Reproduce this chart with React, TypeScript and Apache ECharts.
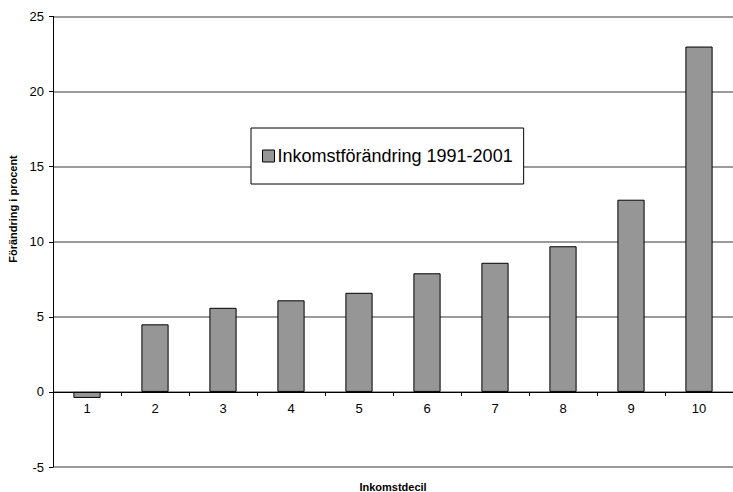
import React, { useEffect, useRef } from "react";
import * as echarts from "echarts";

const categories = ["1", "2", "3", "4", "5", "6", "7", "8", "9", "10"];
const values = [-0.4, 4.5, 5.6, 6.1, 6.6, 7.9, 8.6, 9.7, 12.8, 23.0];
const seriesName = "Inkomstförändring 1991-2001";
const yTitle = "Förändring i procent";
const xTitle = "Inkomstdecil";

const FONT = "'Liberation Sans', Arial, Helvetica, sans-serif";
const Y_MIN = -5;
const Y_MAX = 25;
const GRID_TOP = 16.5;
const GRID_BOTTOM = 25;
const HEIGHT = 492;

export default function App() {
  const ref = useRef<HTMLDivElement>(null);
  useEffect(() => {
    document.body.style.margin = "0";
    if (!ref.current) return;
    const chart = echarts.init(ref.current, undefined, { renderer: "svg" });
    const plotH = HEIGHT - GRID_TOP - GRID_BOTTOM;
    const zeroOffset = -(plotH * (0 - Y_MIN)) / (Y_MAX - Y_MIN);
    chart.setOption({
      animation: false,
      backgroundColor: "#ffffff",
      grid: { left: 53, right: -8, top: GRID_TOP, bottom: GRID_BOTTOM, containLabel: false },
      legend: {
        data: [{ name: seriesName, icon: "rect" }],
        left: 251,
        top: 128,
        padding: [19, 11],
        itemWidth: 12,
        itemHeight: 12,
        itemGap: 0,
        borderColor: "#000",
        borderWidth: 1,
        backgroundColor: "#fff",
        textStyle: { fontFamily: FONT, fontSize: 18, color: "#000", padding: [0, 0, 0, -2] },
        itemStyle: { color: "#969696", borderColor: "#000", borderWidth: 1 },
      },
      xAxis: {
        type: "category",
        data: categories,
        position: "bottom",
        offset: zeroOffset,
        axisLine: { onZero: false, lineStyle: { color: "#000", width: 1 } },
        axisTick: { show: true, length: 4, inside: false, lineStyle: { color: "#000" } },
        axisLabel: { fontFamily: FONT, fontSize: 13, color: "#000", margin: 10 },
        splitLine: { show: false },
      },
      yAxis: {
        type: "value",
        min: Y_MIN,
        max: Y_MAX,
        interval: 5,
        axisLine: { show: true, lineStyle: { color: "#000", width: 1 } },
        axisTick: { show: true, length: 4, lineStyle: { color: "#000" } },
        axisLabel: { fontFamily: FONT, fontSize: 13, color: "#000", margin: 9 },
        splitLine: { show: true, lineStyle: { color: "#7a7a7a", width: 1.5 } },
      },
      graphic: [
        {
          type: "text",
          x: 13,
          y: 209,
          rotation: Math.PI / 2,
          style: {
            text: yTitle,
            fontFamily: FONT,
            fontSize: 11,
            fontWeight: "bold",
            fill: "#000",
            align: "center",
            verticalAlign: "middle",
          },
        },
        {
          type: "text",
          x: 393,
          y: 487,
          style: {
            text: xTitle,
            fontFamily: FONT,
            fontSize: 11,
            fontWeight: "bold",
            fill: "#000",
            align: "center",
            verticalAlign: "middle",
          },
        },
      ],
      series: [
        {
          name: seriesName,
          type: "bar",
          data: values,
          barWidth: "40%",
          itemStyle: { color: "#969696", borderColor: "#000", borderWidth: 1 },
        },
      ],
    });
    return () => chart.dispose();
  }, []);
  return <div ref={ref} style={{ width: 733, height: HEIGHT }} />;
}
